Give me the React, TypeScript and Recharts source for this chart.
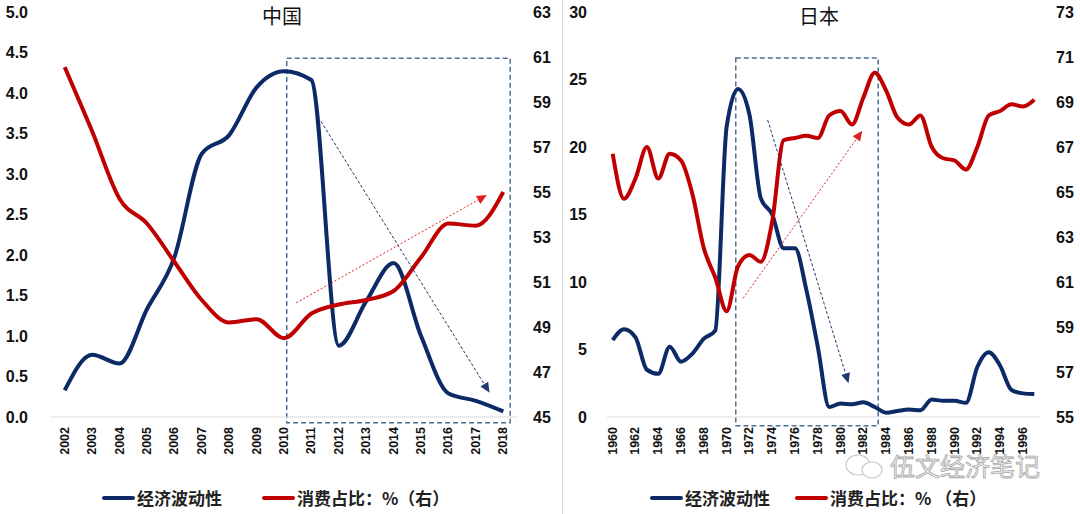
import React from 'react'
import { Line, LineChart, ReferenceArea, ReferenceLine, XAxis, YAxis } from 'recharts'

// ─── Data ──────────────────────────────────────────────────────────────────────
const cnYears = [2002, 2003, 2004, 2005, 2006, 2007, 2008, 2009, 2010, 2011, 2012, 2013, 2014, 2015, 2016, 2017, 2018]
const cnVolatility = [0.33, 0.77, 0.66, 1.33, 1.97, 3.25, 3.48, 4.07, 4.27, 4.16, 0.88, 1.43, 1.9, 1.0, 0.29, 0.2, 0.07]
const cnConsumption = [60.55, 57.7, 54.7, 53.6, 51.9, 50.2, 49.2, 49.35, 48.5, 49.6, 50.0, 50.2, 50.6, 52.1, 53.6, 53.5, 55.0]

const jpYears = [
  1960, 1961, 1962, 1963, 1964, 1965, 1966, 1967, 1968, 1969, 1970, 1971, 1972, 1973, 1974, 1975, 1976, 1977, 1978,
  1979, 1980, 1981, 1982, 1983, 1984, 1985, 1986, 1987, 1988, 1989, 1990, 1991, 1992, 1993, 1994, 1995, 1996, 1997,
]
const jpVolatility = [
  5.7, 6.5, 5.9, 3.5, 3.2, 5.2, 4.1, 4.7, 5.8, 6.4, 21.5, 24.3, 22.4, 16.2, 15.0, 12.5, 12.5, 9.4, 5.2,
  0.74, 1.0, 0.94, 1.1, 0.74, 0.32, 0.45, 0.55, 0.5, 1.3, 1.2, 1.2, 1.05, 3.7, 4.8, 3.8, 2.0, 1.75, 1.7,
]
const jpConsumption = [
  66.7, 64.7, 65.6, 67.0, 65.6, 66.7, 66.4, 64.9, 62.5, 61.2, 59.7, 61.7, 62.2, 61.9, 63.7, 67.3, 67.4, 67.5, 67.4,
  68.4, 68.6, 68.0, 69.2, 70.3, 69.5, 68.3, 68.0, 68.4, 67.0, 66.5, 66.4, 66.0, 67.0, 68.4, 68.6, 68.9, 68.8, 69.1,
]

const cnLeftTicks = [0, 0.5, 1, 1.5, 2, 2.5, 3, 3.5, 4, 4.5, 5]
const cnRightTicks = [45, 47, 49, 51, 53, 55, 57, 59, 61, 63]
const jpLeftTicks = [0, 5, 10, 15, 20, 25, 30]
const jpRightTicks = [55, 57, 59, 61, 63, 65, 67, 69, 71, 73]
const jpYearTicks = jpYears.filter((y) => y % 2 === 0 && y < 1997)

// annotations (data units)
const cnBox = { x1: 2010.1, x2: 2018.25, y1: -0.07, y2: 4.43 }
const cnBlueArrow = [{ x: 2011.35, y: 3.65 }, { x: 2017.5, y: 0.3 }]
const cnRedArrow = [{ x: 2010.45, y: 1.41 }, { x: 2017.4, y: 2.74 }]
const jpBox = { x1: 1970.8, x2: 1983.3, y1: -0.65, y2: 26.6 }
const jpBlueArrow = [{ x: 1973.6, y: 22.0 }, { x: 1980.7, y: 2.5 }]
const jpRedArrow = [{ x: 1971.45, y: 8.8 }, { x: 1981.9, y: 21.2 }]

const BLUE = '#0b2a66'
const RED = '#c00000'
const NUM_FONT = '"Liberation Sans", Arial, sans-serif'
const CJK_FONT = '"Noto Sans CJK SC", "Noto Sans", sans-serif'

// ─── Pieces ────────────────────────────────────────────────────────────────────
const YearTick = ({ x, y, payload }: any) => {
  const ty = y + 2
  return (
    <text
      x={x}
      y={ty}
      transform={`rotate(-90, ${x}, ${ty})`}
      textAnchor="end"
      dominantBaseline="central"
      fontSize={12.5}
      fontWeight="bold"
      fontFamily={NUM_FONT}
      fill="#111"
    >
      {payload.value}
    </text>
  )
}

const arrowShape = (color: string, dash: string) => (props: any) => {
  const { x1, y1, x2, y2 } = props
  if ([x1, y1, x2, y2].some((v) => typeof v !== 'number' || isNaN(v))) return <g />
  const a = Math.atan2(y2 - y1, x2 - x1)
  const len = 10
  const hw = 4.5
  const bx = x2 - len * Math.cos(a)
  const by = y2 - len * Math.sin(a)
  const px = -Math.sin(a) * hw
  const py = Math.cos(a) * hw
  return (
    <g>
      <line x1={x1} y1={y1} x2={bx} y2={by} stroke={color} strokeWidth={1} strokeDasharray={dash} />
      <polygon points={`${x2},${y2} ${bx + px},${by + py} ${bx - px},${by - py}`} fill={color} />
    </g>
  )
}

interface CountryChartProps {
  years: number[]
  volatility: number[]
  consumption: number[]
  width: number
  leftWidth: number
  rightWidth: number
  leftMargin: number
  rightMargin: number
  leftTicks: number[]
  rightTicks: number[]
  xTicks: number[]
  leftFmt: (v: number) => string
  box: { x1: number; x2: number; y1: number; y2: number }
  blueArrow: { x: number; y: number }[]
  redArrow: { x: number; y: number }[]
}

const CountryChart: React.FC<CountryChartProps> = (p) => {
  const data = p.years.map((year, i) => ({ year, vol: p.volatility[i], cons: p.consumption[i] }))
  const first = p.years[0]
  const last = p.years[p.years.length - 1]
  const tickStyle = { fontSize: 16, fontWeight: 'bold', fill: '#111', fontFamily: NUM_FONT }
  return (
    <LineChart width={p.width} height={514} data={data} margin={{ top: 12, right: 0, bottom: 0, left: 0 }}>
      <XAxis
        dataKey="year"
        type="number"
        domain={[first - 0.5, last + 0.5]}
        ticks={p.xTicks}
        interval={0}
        height={97}
        tick={<YearTick />}
        tickLine={false}
        axisLine={{ stroke: '#d9d9d9', strokeWidth: 1 }}
        allowDataOverflow
      />
      <YAxis
        yAxisId="left"
        domain={[p.leftTicks[0], p.leftTicks[p.leftTicks.length - 1]]}
        ticks={p.leftTicks}
        interval={0}
        width={p.leftWidth}
        tickMargin={p.leftMargin}
        tick={tickStyle}
        tickFormatter={p.leftFmt}
        axisLine={false}
        tickLine={false}
      />
      <YAxis
        yAxisId="right"
        orientation="right"
        domain={[p.rightTicks[0], p.rightTicks[p.rightTicks.length - 1]]}
        ticks={p.rightTicks}
        interval={0}
        width={p.rightWidth}
        tickMargin={p.rightMargin}
        tick={{ ...tickStyle, textAnchor: 'start' }}
        axisLine={false}
        tickLine={false}
      />
      <Line
        yAxisId="left"
        type="monotone"
        dataKey="vol"
        name="经济波动性"
        stroke={BLUE}
        strokeWidth={4}
        dot={false}
        isAnimationActive={false}
      />
      <Line
        yAxisId="right"
        type="monotone"
        dataKey="cons"
        name="消费占比：%（右）"
        stroke={RED}
        strokeWidth={4}
        dot={false}
        isAnimationActive={false}
      />
      <ReferenceArea
        yAxisId="left"
        x1={p.box.x1}
        x2={p.box.x2}
        y1={p.box.y1}
        y2={p.box.y2}
        ifOverflow="visible"
        fill="none"
        fillOpacity={0}
        stroke="#4d7095"
        strokeWidth={1.5}
        strokeDasharray="5 3"
      />
      <ReferenceLine
        yAxisId="left"
        segment={p.blueArrow}
        ifOverflow="visible"
        stroke={BLUE}
        shape={arrowShape('#1f3a6e', '3 2')}
      />
      <ReferenceLine
        yAxisId="left"
        segment={p.redArrow}
        ifOverflow="visible"
        stroke={RED}
        shape={arrowShape('#e02020', '2 2')}
      />
    </LineChart>
  )
}

const LegendRow = ({ left, redLeft, redText }: { left: number; redLeft: number; redText: string }) => {
  const txt: React.CSSProperties = {
    position: 'absolute',
    top: 486,
    fontSize: 17,
    fontWeight: 'bold',
    color: '#222',
    fontFamily: CJK_FONT,
    whiteSpace: 'nowrap',
    lineHeight: '24px',
  }
  const bar = (color: string, x: number): React.CSSProperties => ({
    position: 'absolute',
    left: x,
    top: 496,
    width: 33,
    height: 4,
    borderRadius: 2,
    background: color,
  })
  return (
    <>
      <div style={bar(BLUE, left)} />
      <div style={{ ...txt, left: left + 35 }}>经济波动性</div>
      <div style={bar(RED, redLeft)} />
      <div style={{ ...txt, left: redLeft + 35 }}>{redText}</div>
    </>
  )
}

export default function App() {
  const title: React.CSSProperties = {
    position: 'absolute',
    top: 2,
    width: 120,
    textAlign: 'center',
    fontSize: 20,
    color: '#111',
    fontFamily: CJK_FONT,
    lineHeight: '28px',
  }
  return (
    <div style={{ position: 'absolute', left: 0, top: 0, width: 1080, height: 514, background: '#fff', overflow: 'hidden' }}>
      <div style={{ position: 'absolute', left: 0, top: 0 }}>
        <CountryChart
          years={cnYears}
          volatility={cnVolatility}
          consumption={cnConsumption}
          width={560}
          leftWidth={51}
          rightWidth={43}
          leftMargin={17}
          rightMargin={10}
          leftTicks={cnLeftTicks}
          rightTicks={cnRightTicks}
          xTicks={cnYears}
          leftFmt={(v) => v.toFixed(1)}
          box={cnBox}
          blueArrow={cnBlueArrow}
          redArrow={cnRedArrow}
        />
      </div>
      <div style={{ position: 'absolute', left: 562, top: 0, width: 1, height: 514, background: '#d9d9d9' }} />
      <div style={{ position: 'absolute', left: 562, top: 0 }}>
        <CountryChart
          years={jpYears}
          volatility={jpVolatility}
          consumption={jpConsumption}
          width={518}
          leftWidth={45}
          rightWidth={40}
          leftMargin={14}
          rightMargin={10}
          leftTicks={jpLeftTicks}
          rightTicks={jpRightTicks}
          xTicks={jpYearTicks}
          leftFmt={(v) => String(v)}
          box={jpBox}
          blueArrow={jpBlueArrow}
          redArrow={jpRedArrow}
        />
      </div>
      <div style={{ ...title, left: 222 }}>中国</div>
      <div style={{ ...title, left: 759 }}>日本</div>
      <LegendRow left={102} redLeft={262} redText="消费占比：%（右）" />
      <LegendRow left={650} redLeft={795} redText="消费占比：% （右）" />
      <svg style={{ position: 'absolute', left: 840, top: 446, overflow: 'visible' }} width={230} height={44}>
        <ellipse cx={18} cy={19} rx={12} ry={10} fill="none" stroke="#c8c8c8" strokeWidth={1.2} />
        <ellipse cx={32} cy={24} rx={10} ry={8} fill="#fff" stroke="#c8c8c8" strokeWidth={1.2} />
        <text
          x={50}
          y={30}
          fontSize={25}
          fontFamily={CJK_FONT}
          fill="#f2f2f2"
          stroke="#a8a8a8"
          strokeWidth={0.8}
        >
          伍文经济笔记
        </text>
      </svg>
    </div>
  )
}
